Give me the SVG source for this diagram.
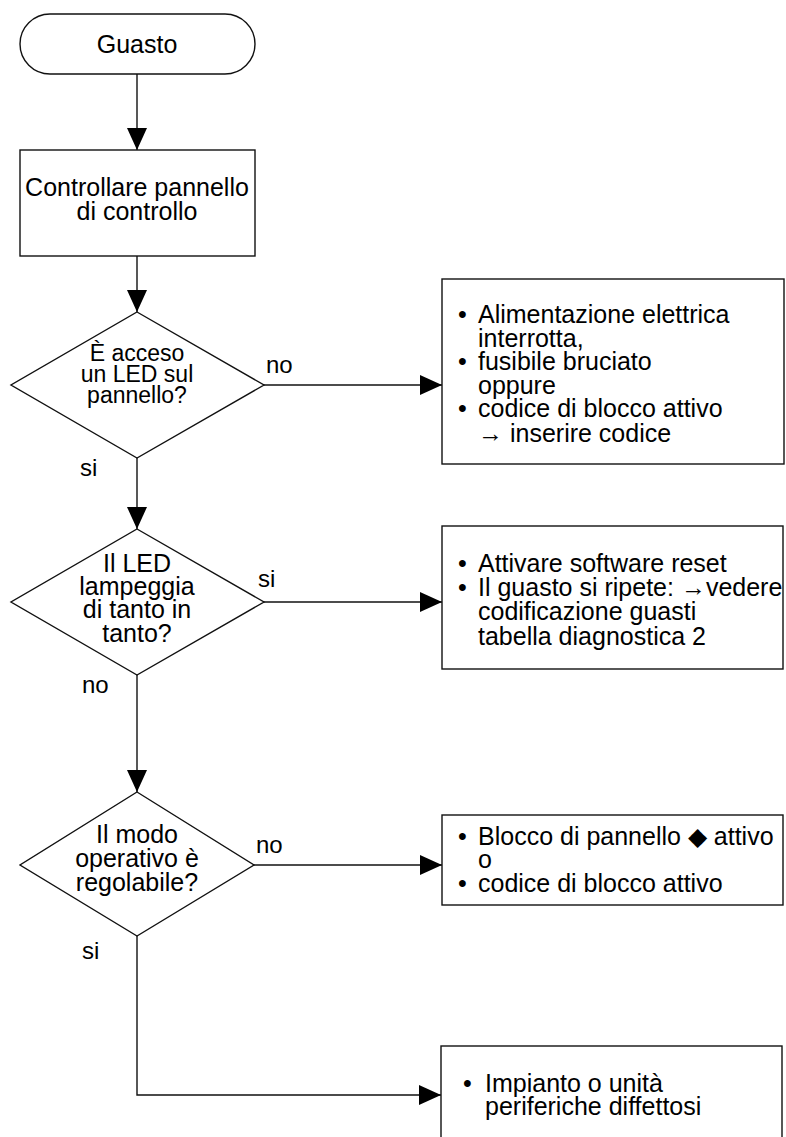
<svg xmlns="http://www.w3.org/2000/svg" width="786" height="1137" viewBox="0 0 786 1137">
<defs>
<style>
.sh{fill:#fff;stroke:#111;stroke-width:1.4}
.ln{fill:none;stroke:#111;stroke-width:1.4}
text{font-family:"Liberation Sans",Arial,sans-serif;font-size:25px;fill:#000}
.c{text-anchor:middle}
.lb{font-size:24px}
.sm{font-size:23px}
</style>
<marker id="ah" markerUnits="userSpaceOnUse" markerWidth="22" markerHeight="20" refX="22" refY="10" orient="auto">
<path d="M0,0 L22,10 L0,20 Z" fill="#000"/>
</marker>
</defs>
<rect width="786" height="1137" fill="#fff"/>
<g id="connectors">
<line class="ln" x1="137" y1="74" x2="137" y2="150" marker-end="url(#ah)"/>
<line class="ln" x1="137" y1="256" x2="137" y2="312" marker-end="url(#ah)"/>
<line class="ln" x1="264" y1="385" x2="442" y2="385" marker-end="url(#ah)"/>
<line class="ln" x1="137" y1="458" x2="137" y2="529" marker-end="url(#ah)"/>
<line class="ln" x1="264" y1="602" x2="442" y2="602" marker-end="url(#ah)"/>
<line class="ln" x1="137" y1="675" x2="137" y2="792" marker-end="url(#ah)"/>
<line class="ln" x1="254" y1="865" x2="442" y2="865" marker-end="url(#ah)"/>
<polyline class="ln" points="137,936 137,1095 441,1095" marker-end="url(#ah)"/>
<text class="lb" x="266" y="373">no</text>
<text class="lb" x="80" y="476">si</text>
<text class="lb" x="258" y="587">si</text>
<text class="lb" x="82" y="693">no</text>
<text class="lb" x="256" y="853">no</text>
<text class="lb" x="82" y="959">si</text>
</g>
<g id="start">
<rect class="sh" x="20" y="14" width="235" height="60" rx="30" ry="30"/>
<text class="c" x="137" y="53">Guasto</text>
</g>
<g id="check-panel">
<rect class="sh" x="20" y="150" width="235" height="106"/>
<text class="c" x="137" y="196">Controllare pannello</text>
<text class="c" x="137" y="220">di controllo</text>
</g>
<g id="q-led-on">
<polygon class="sh" points="137,312 264,385 137,458 11,385"/>
<text class="c sm" x="137" y="361">È acceso</text>
<text class="c sm" x="137" y="382">un LED sul</text>
<text class="c sm" x="137" y="403">pannello?</text>
</g>
<g id="r-power">
<rect class="sh" x="442" y="279" width="342" height="185"/>
<text x="458" y="323">•</text><text x="478" y="323">Alimentazione elettrica</text>
<text x="478" y="347">interrotta,</text>
<text x="458" y="370">•</text><text x="478" y="370">fusibile bruciato</text>
<text x="478" y="394">oppure</text>
<text x="458" y="417">•</text><text x="478" y="417">codice di blocco attivo</text>
<text x="478" y="442">→ inserire codice</text>
</g>
<g id="q-led-blink">
<polygon class="sh" points="137,529 264,602 137,675 11,602"/>
<text class="c" x="137" y="572">Il LED</text>
<text class="c" x="137" y="595">lampeggia</text>
<text class="c" x="137" y="618">di tanto in</text>
<text class="c" x="137" y="642">tanto?</text>
</g>
<g id="r-reset">
<rect class="sh" x="442" y="526" width="341" height="143"/>
<text x="458" y="572">•</text><text x="478" y="572">Attivare software reset</text>
<text x="458" y="596">•</text><text x="478" y="596">Il guasto si ripete: →vedere</text>
<text x="478" y="620">codificazione guasti</text>
<text x="478" y="645">tabella diagnostica 2</text>
</g>
<g id="q-mode">
<polygon class="sh" points="137,792 254,865 137,936 20,865"/>
<text class="c" x="137" y="843">Il modo</text>
<text class="c" x="137" y="867">operativo è</text>
<text class="c" x="137" y="891">regolabile?</text>
</g>
<g id="r-lock">
<rect class="sh" x="442" y="815" width="341" height="90"/>
<text x="458" y="845">•</text><text x="478" y="845">Blocco di pannello ◆ attivo</text>
<text x="478" y="868">o</text>
<text x="458" y="892">•</text><text x="478" y="892">codice di blocco attivo</text>
</g>
<g id="r-defect">
<rect class="sh" x="441" y="1046" width="341" height="110"/>
<text x="463" y="1092">•</text><text x="485" y="1092">Impianto o unità</text>
<text x="485" y="1115">periferiche diffettosi</text>
</g>
</svg>
